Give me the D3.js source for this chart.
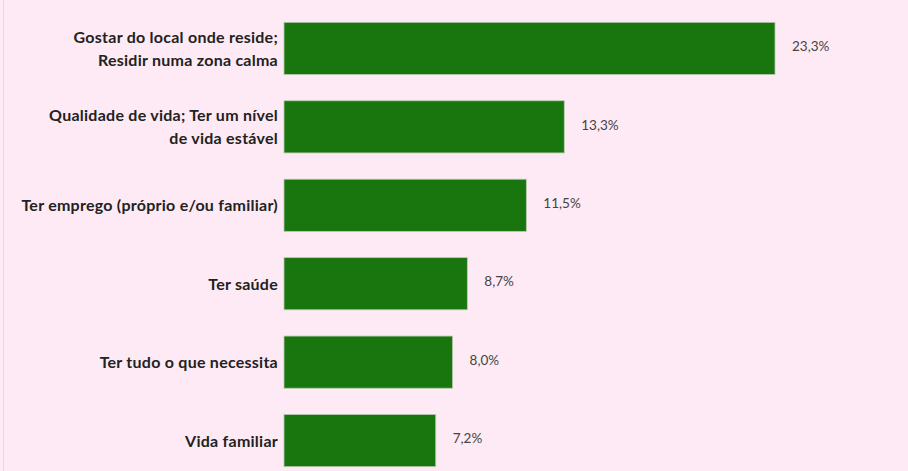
<!DOCTYPE html>
<html>
<head>
<meta charset="utf-8">
<script src="https://cdn.jsdelivr.net/npm/d3@7"></script>
<style>
  body { margin: 0; background: #fdeaf4; }
  svg { display: block; }
</style>
</head>
<body>
<svg width="908" height="471"></svg>
<script>
const categories = [
	["Gostar do local onde reside;", "Residir numa zona calma"],
	["Qualidade de vida; Ter um nível", "de vida estável"],
	["Ter emprego (próprio e/ou familiar)"],
	["Ter saúde"],
	["Ter tudo o que necessita"],
	["Vida familiar"]
];
const values = [23.3, 13.3, 11.5, 8.7, 8.0, 7.2];
const valueLabels = ["23,3%", "13,3%", "11,5%", "8,7%", "8,0%", "7,2%"];

const svg = d3.select("svg"),
	width = +svg.attr("width"),
	height = +svg.attr("height");

const margin = { left: 284, top: 9, bottom: -9 };
const lineGap = 23;

svg.append("rect")
	.attr("width", width)
	.attr("height", height)
	.attr("fill", "#fdeaf4");

// faint frame line on the left
svg.append("line")
	.attr("x1", 3.5).attr("x2", 3.5)
	.attr("y1", 0).attr("y2", height)
	.attr("stroke", "#e6dbe1");

const x = d3.scaleLinear()
	.domain([0, 23.3])
	.range([margin.left, 775]);

const y = d3.scaleBand()
	.domain(d3.range(values.length))
	.range([margin.top, height - margin.bottom])
	.paddingInner(0.335)
	.paddingOuter(0.17);

const rows = svg.selectAll("g.row")
	.data(values)
	.enter().append("g")
	.attr("class", "row");

rows.append("rect")
	.attr("x", x(0))
	.attr("y", (d, i) => y(i))
	.attr("width", d => x(d) - x(0))
	.attr("height", y.bandwidth())
	.attr("fill", "#19760f")
	.attr("stroke", "#b9c9b0")
	.attr("stroke-width", 0.8);

rows.append("text")
	.attr("x", d => x(d) + 17)
	.attr("y", (d, i) => y(i) + y.bandwidth() / 2 - 2)
	.attr("dy", "0.35em")
	.attr("font-family", "Lato, sans-serif")
	.attr("font-size", 13.5)
	.attr("fill", "#444")
	.text((d, i) => valueLabels[i]);

const labels = rows.append("text")
	.attr("text-anchor", "end")
	.attr("font-family", "Lato, sans-serif")
	.attr("font-weight", "bold")
	.attr("font-size", 16)
	.attr("letter-spacing", 0.25)
	.attr("fill", "#222")
	.attr("y", (d, i) => y(i) + y.bandwidth() / 2 + 6);

labels.each(function(d, i) {
	const lines = categories[i];
	const t = d3.select(this);
	lines.forEach((line, j) => {
		t.append("tspan")
			.attr("x", x(0) - 6)
			.attr("dy", j === 0 ? -(lines.length - 1) * lineGap / 2 : lineGap)
			.text(line);
	});
});
</script>
</body>
</html>
